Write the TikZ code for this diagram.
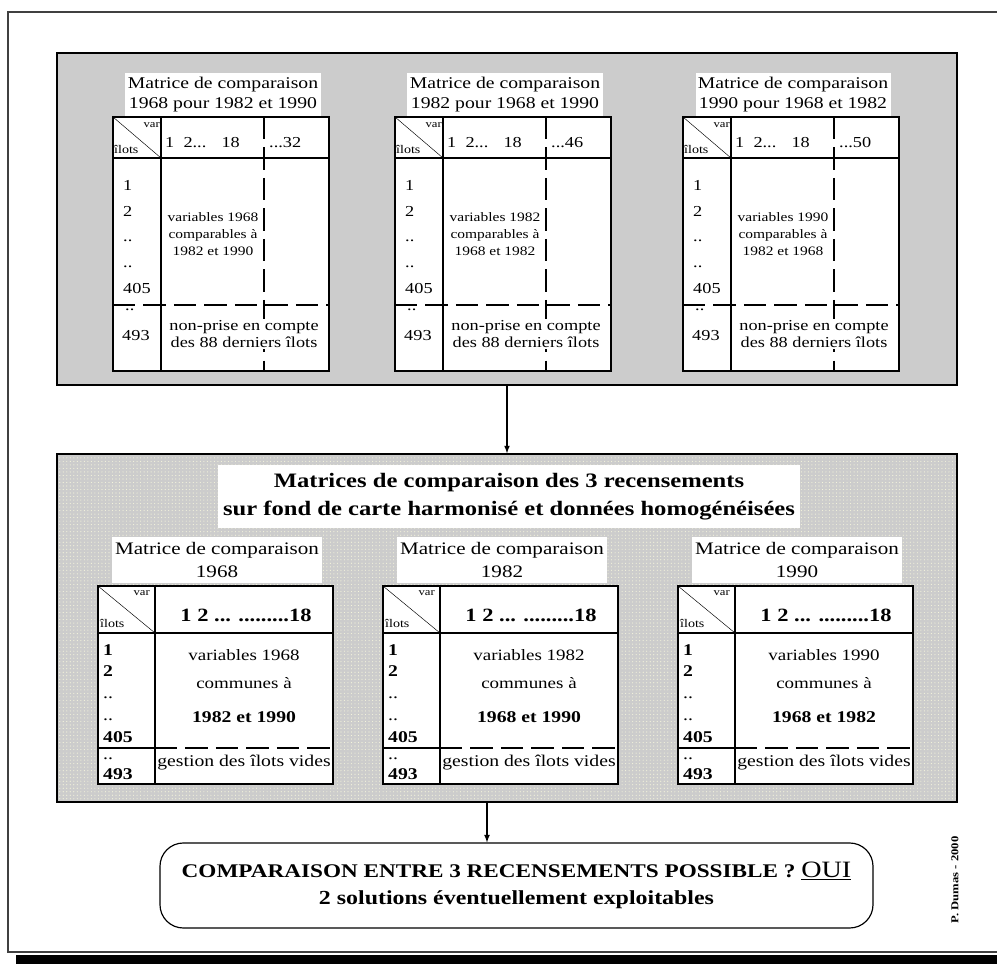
\documentclass[tikz,border=0pt]{standalone}
\usepackage{fontspec}
\setmainfont{Liberation Serif}
\newfontfamily\pixfont[FakeStretch=1.2]{Liberation Serif}
\usetikzlibrary{patterns}
\definecolor{panelgray}{HTML}{CCCCCC}
\definecolor{dotcol}{HTML}{F4F4DC}
\tikzset{
  panel/.style={draw,line width=2pt,fill=panelgray,minimum width=27cm,inner sep=0pt},
  dotpanel/.style={draw,line width=1.2pt,preaction={fill=panelgray},pattern=dots,pattern color=dotcol,minimum width=27cm,inner sep=0pt},
  titlebox/.style={fill=white,inner sep=2pt,align=center,font=\pixfont\fontsize{14}{17}\selectfont},
  grid/.style={line width=1.2pt},
  cut/.style={line width=1.2pt,dash pattern=on 19pt off 7pt},
  txt/.style={inner sep=0pt,font=\pixfont\fontsize{13}{15}\selectfont},
  corner/.style={inner sep=0pt,font=\pixfont\fontsize{9}{9}\selectfont},
  boldtxt/.style={inner sep=0pt,font=\pixfont\bfseries\fontsize{14}{14}\selectfont},
}
\begin{document}
\begin{tikzpicture}[x=0.03cm,y=-0.03cm,>=latex]
\useasboundingbox (0,0) rectangle (997,964);
\clip (0,0) rectangle (997,964);
% cadre general
\draw[line width=1.5pt,black!75] (1000,12) -- (8,12) -- (8,952) -- (1000,952);
\fill (16,955) rectangle (1000,970);

% panneaux
\node[panel,minimum height=9.96cm] (T) at (507,219) {};
\node[dotpanel,minimum height=10.44cm] (H) at (507,628) {};

% matrices de chaque recensement
\foreach \x/\yr/\vs/\last/\oth in {113/1968/1968 pour 1982 et 1990/32/1982 et 1990,395/1982/1982 pour 1968 et 1990/46/1968 et 1982,683/1990/1990 pour 1968 et 1982/50/1982 et 1968}{
  \node[titlebox,minimum width=5.85cm,minimum height=1.29cm] (t\yr) at (\x+110,94.5) {Matrice de comparaison\\\vs};
  \fill[white] (\x,117) rectangle (\x+216,371);
  \draw[grid] (\x,117) rectangle (\x+216,371);
  \draw[grid] (\x,158) -- (\x+216,158);
  \draw[grid] (\x+48,117) -- (\x+48,371);
  \draw (\x,117) -- (\x+48,158);
  \draw[cut] (\x+151,117) -- (\x+151,371);
  \draw[cut] (\x,305) -- (\x+216,305);
  \node[corner,anchor=east] at (\x+47,125) {var};
  \node[corner,font=\pixfont\fontsize{10}{10}\selectfont,anchor=west] at (\x+1,149) {îlots};
  \node[txt,anchor=west] at (\x+52,143) {1\ \ 2...\quad 18};
  \node[txt,anchor=west] at (\x+156,143) {...\last};
  \node[txt,anchor=north west,align=left,font=\pixfont\fontsize{13}{22}\selectfont] at (\x+10,180) {1\\2\\..\\..\\405};
  \node[txt,anchor=west] at (\x+12,310) {..};
  \node[txt,anchor=west] at (\x+9,336) {493};
  \node[txt,align=center,font=\pixfont\fontsize{11}{14.5}\selectfont] at (\x+100,234) {variables \yr\\comparables à\\\oth};
  \node[txt,fill=white,inner sep=1pt,align=center] at (\x+131,334) {non-prise en compte\\des 88 derniers îlots};
}

% titre du panneau homogeneise
\node[fill=white,inner sep=0pt,minimum width=17.46cm,minimum height=1.89cm,align=center,font=\pixfont\bfseries\fontsize{17.5}{24}\selectfont] (M) at (509,496.5) {Matrices de comparaison des 3 recensements\\sur fond de carte harmonisé et données homogénéisées};

% matrices homogeneisees
\foreach \x/\yr/\oth in {98/1968/1982 et 1990,383/1982/1968 et 1990,678/1990/1968 et 1982}{
  \node[titlebox,font=\pixfont\fontsize{15}{19}\selectfont,minimum width=6.3cm,minimum height=1.35cm] (m\yr) at (\x+119,560) {Matrice de comparaison\\\yr};
  \fill[white] (\x,586) rectangle (\x+235,784);
  \draw[grid] (\x,586) rectangle (\x+235,784);
  \draw[grid] (\x,633) -- (\x+235,633);
  \draw[grid] (\x+57,586) -- (\x+57,784);
  \draw (\x,586) -- (\x+57,633);
  \draw[grid] (\x,748) -- (\x+57,748);
  \draw[cut] (\x+57,748) -- (\x+235,748);
  \node[corner,anchor=east] at (\x+52,593) {var};
  \node[corner,font=\pixfont\fontsize{10}{10}\selectfont,anchor=west] at (\x+2,623) {îlots};
  \node[boldtxt,font=\pixfont\bfseries\fontsize{16}{16}\selectfont] at (\x+148,615) {1 2 ... .........18};
  \foreach \yy/\lab in {650/\textbf{1},671/\textbf{2},698/..,720/..,737/\textbf{405},759/..,774/\textbf{493}}
    \node[txt,font=\pixfont\fontsize{14}{14}\selectfont,anchor=west] at (\x+5,\yy) {\lab};
  \node[txt,font=\pixfont\fontsize{13.5}{14}\selectfont] at (\x+146,655) {variables \yr};
  \node[txt,font=\pixfont\fontsize{13.5}{14}\selectfont] at (\x+146,683) {communes à};
  \node[boldtxt] at (\x+146,717) {\oth};
  \node[txt,font=\pixfont\fontsize{14}{14}\selectfont] at (\x+146,763) {gestion des îlots vides};
}

% conclusion
\node[draw,line width=1pt,rounded corners=7mm,minimum width=21.39cm,minimum height=2.55cm,align=center,font=\pixfont\bfseries\fontsize{16.5}{23}\selectfont] (R) at (516.5,885.5) {COMPARAISON ENTRE 3 RECENSEMENTS POSSIBLE ? {\mdseries\fontsize{20}{23}\selectfont\underline{OUI}}\\{\fontsize{17}{23}\selectfont 2 solutions éventuellement exploitables}};

\draw[->,line width=1.2pt] (T) -- (H);
\draw[->,line width=1.2pt] ([xshift=-0.6cm]H.south) -- ([xshift=-0.6cm]H.south |- R.north);

\node[rotate=90,font=\pixfont\bfseries\fontsize{9}{9}\selectfont] (P) at (955,880) {P. Dumas - 2000};
\end{tikzpicture}
\end{document}
